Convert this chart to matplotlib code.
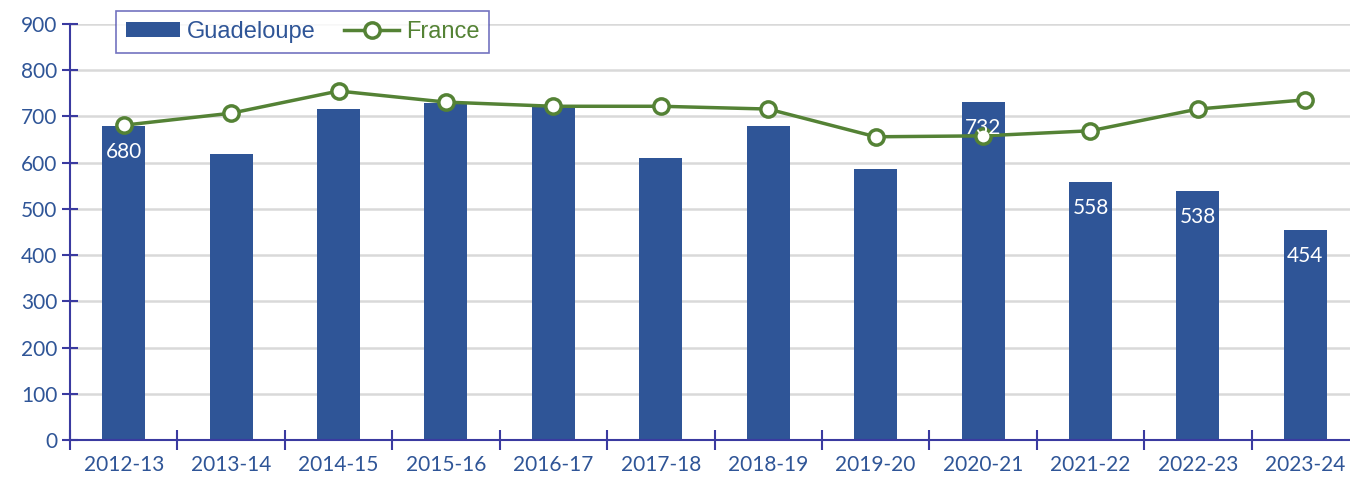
import matplotlib
matplotlib.use("Agg")
import matplotlib.pyplot as plt
import numpy as np

seasons = ["2012-13", "2013-14", "2014-15", "2015-16", "2016-17", "2017-18",
           "2018-19", "2019-20", "2020-21", "2021-22", "2022-23", "2023-24"]
guadeloupe = [680, 619, 716, 729, 722, 610, 679, 586, 732, 558, 538, 454]
france = [681, 707, 755, 731, 722, 722, 716, 656, 658, 669, 716, 736]
labelled = ["2012-13", "2020-21", "2021-22", "2022-23", "2023-24"]

bar_color = "#2f5597"
line_color = "#548235"
axis_color = "#3a3aa0"
text_color = "#2f5597"

plt.rcParams["font.family"] = ["Lato", "DejaVu Sans"]

fig = plt.figure(figsize=(13.5, 4.78), dpi=100)
ax = fig.add_axes([70 / 1350, 1 - 440 / 478, 1289 / 1350, 416 / 478])

x = np.arange(len(seasons))
bars = ax.bar(x, guadeloupe, width=0.40, color=bar_color, zorder=2, label="Guadeloupe")
line, = ax.plot(x, france, color=line_color, lw=2.5, marker="o", ms=11,
                mfc="white", mec=line_color, mew=2.5, zorder=3, label="France")

for xi, s, v in zip(x, seasons, guadeloupe):
    if s in labelled:
        ax.annotate(str(v), (xi, v), xytext=(0, -26), textcoords="offset pixels",
                    ha="center", va="center", color="white", fontsize=15, zorder=4)

ax.set_xlim(-0.5, len(seasons) - 0.5)
ax.set_ylim(0, 900)
ax.set_yticks(range(0, 901, 100))
ax.yaxis.grid(True, color="#d9d9d9", lw=1.8, zorder=0)
ax.set_axisbelow(True)

ax.set_xticks(x)
ax.set_xticklabels(seasons)
ax.set_xticks(np.arange(-0.5, len(seasons), 1.0), minor=True)
ax.tick_params(axis="x", which="major", length=0, pad=11, labelsize=15, labelcolor=text_color)
ax.tick_params(axis="x", which="minor", length=14, direction="inout", color=axis_color, width=1.5)
ax.tick_params(axis="y", length=12, direction="inout", color=axis_color, width=1.5,
               labelsize=15, labelcolor=text_color, pad=3)

for side in ["top", "right"]:
    ax.spines[side].set_visible(False)
for side in ["left", "bottom"]:
    ax.spines[side].set_color(axis_color)
    ax.spines[side].set_linewidth(1.5)

leg = ax.legend([bars, line], ["Guadeloupe", "France"], loc="upper left",
                bbox_to_anchor=(46 / 1289, 1.031), borderaxespad=0, ncol=2,
                frameon=True, fancybox=False, handlelength=2.3, handleheight=0.6,
                columnspacing=1.2, borderpad=0.42, handletextpad=0.3,
                prop={"family": ["Liberation Sans", "DejaVu Sans"], "size": 17})
leg.get_frame().set_edgecolor("#5050b0")
leg.get_frame().set_linewidth(1.2)
leg.get_texts()[0].set_color(bar_color)
leg.get_texts()[1].set_color(line_color)

fig.savefig("out.png", dpi=100)
